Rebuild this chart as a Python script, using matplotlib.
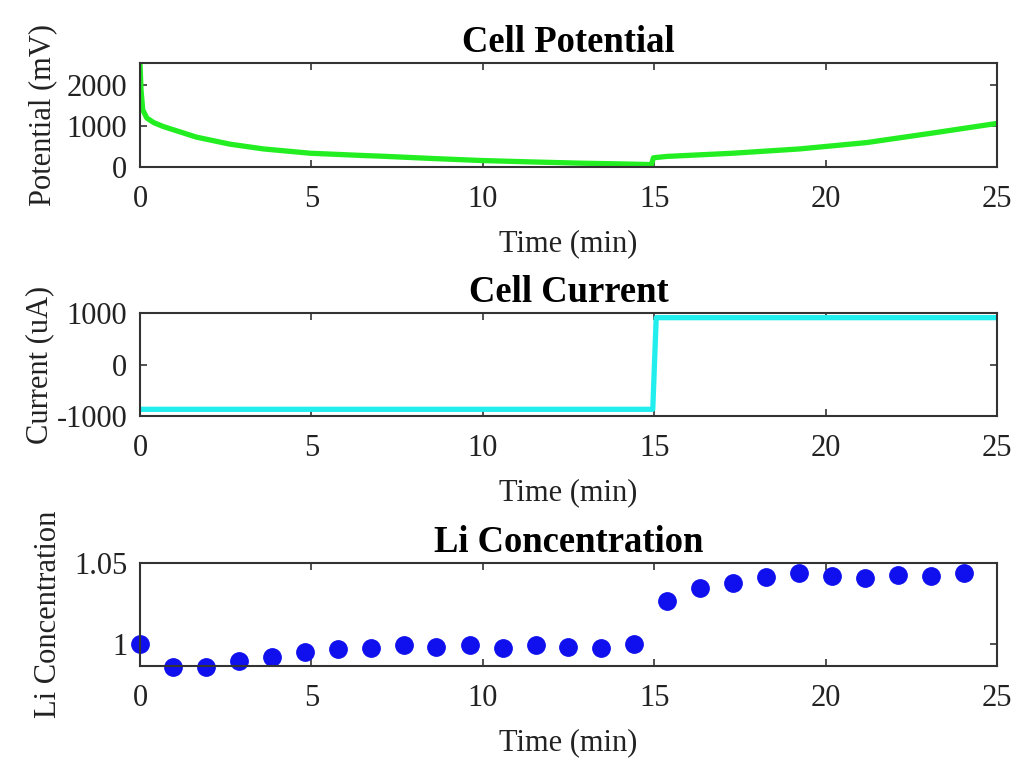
import matplotlib
matplotlib.use('Agg')
import matplotlib.pyplot as plt

# cell potential (mV) vs time (min)
t_pot = [0, 0.03, 0.08, 0.2, 0.4, 0.68, 1.0, 1.65, 2.63, 3.6, 4.96, 6.5, 7.0,
         8.46, 9.92, 11.4, 12.84, 14.0, 14.78, 14.92, 14.98, 15.36, 17.3,
         19.25, 21.2, 23.1, 25]
v_pot = [2520, 1875, 1390, 1190, 1080, 985, 900, 728, 558, 444, 340, 285, 270,
         215, 165, 130, 100, 82, 68, 65, 230, 262, 340,
         444, 597, 825, 1060]

# cell current (uA)
t_cur = [0, 14.96, 15.06, 25]
i_cur = [-870, -870, 915, 915]

# Li concentration samples
t_li = [0, 0.96, 1.92, 2.88, 3.85, 4.81, 5.77, 6.73, 7.69, 8.65, 9.62, 10.58,
        11.54, 12.50, 13.46, 14.42, 15.38, 16.35, 17.31, 18.27, 19.23, 20.19,
        21.15, 22.12, 23.08, 24.04]
c_li = [1.0000, 0.9856, 0.9860, 0.9895, 0.9920, 0.9949, 0.9971, 0.9977, 0.9992,
        0.9980, 0.9992, 0.9977, 0.9992, 0.9983, 0.9977, 1.0000, 1.0264, 1.0346,
        1.0379, 1.0412, 1.0436, 1.0420, 1.0409, 1.0426, 1.0420, 1.0436]

plt.rcParams['font.family'] = ['Liberation Serif', 'DejaVu Serif']
plt.rcParams['font.size'] = 22
plt.rcParams['axes.unicode_minus'] = False

fig = plt.figure(figsize=(10.18, 7.58), dpi=100)
ax1 = fig.add_axes([0.1375, 0.7793, 0.8418, 0.1376])
ax2 = fig.add_axes([0.1375, 0.4512, 0.8418, 0.1355])
ax3 = fig.add_axes([0.1375, 0.1214, 0.8418, 0.1359])


def style(ax, ylpad):
    ax.set_xlim(0, 25)
    ax.set_xticks([0, 5, 10, 15, 20, 25])
    ax.tick_params(direction='in', length=5, width=1.2, top=True, right=True,
                   colors='#333333', labelcolor='#222222')
    ax.tick_params(axis='x', pad=13)
    ax.tick_params(axis='y', pad=9)
    for s in ax.spines.values():
        s.set_color('#333333')
        s.set_linewidth(1.5)
    ax.set_xlabel('Time (min)', color='#222222', labelpad=11)
    ax.yaxis.labelpad = ylpad


ax1.plot(t_pot, v_pot, color='#22ee22', lw=3.8, solid_joinstyle='round')
ax1.set_ylim(0, 2520)
ax1.set_yticks([0, 1000, 2000])
ax1.set_title('Cell Potential', fontweight='bold', pad=8)
ax1.set_ylabel('Potential (mV)', color='#222222')
style(ax1, 7)

ax2.plot(t_cur, i_cur, color='#22eeee', lw=3.8)
ax2.set_ylim(-1000, 1000)
ax2.set_yticks([-1000, 0, 1000])
ax2.set_title('Cell Current', fontweight='bold', pad=8)
ax2.set_ylabel('Current (uA)', color='#222222')
style(ax2, 2)

ax3.plot(t_li, c_li, 'o', color='#1010ee', markersize=12.5, clip_on=False)
ax3.set_ylim(0.9864, 1.05)
ax3.set_yticks([1, 1.05])
ax3.set_yticklabels(['1', '1.05'])
ax3.set_title('Li Concentration', fontweight='bold', pad=8)
ax3.set_ylabel('Li Concentration', color='#222222')
style(ax3, 8)

fig.savefig('out.png', dpi=100)
